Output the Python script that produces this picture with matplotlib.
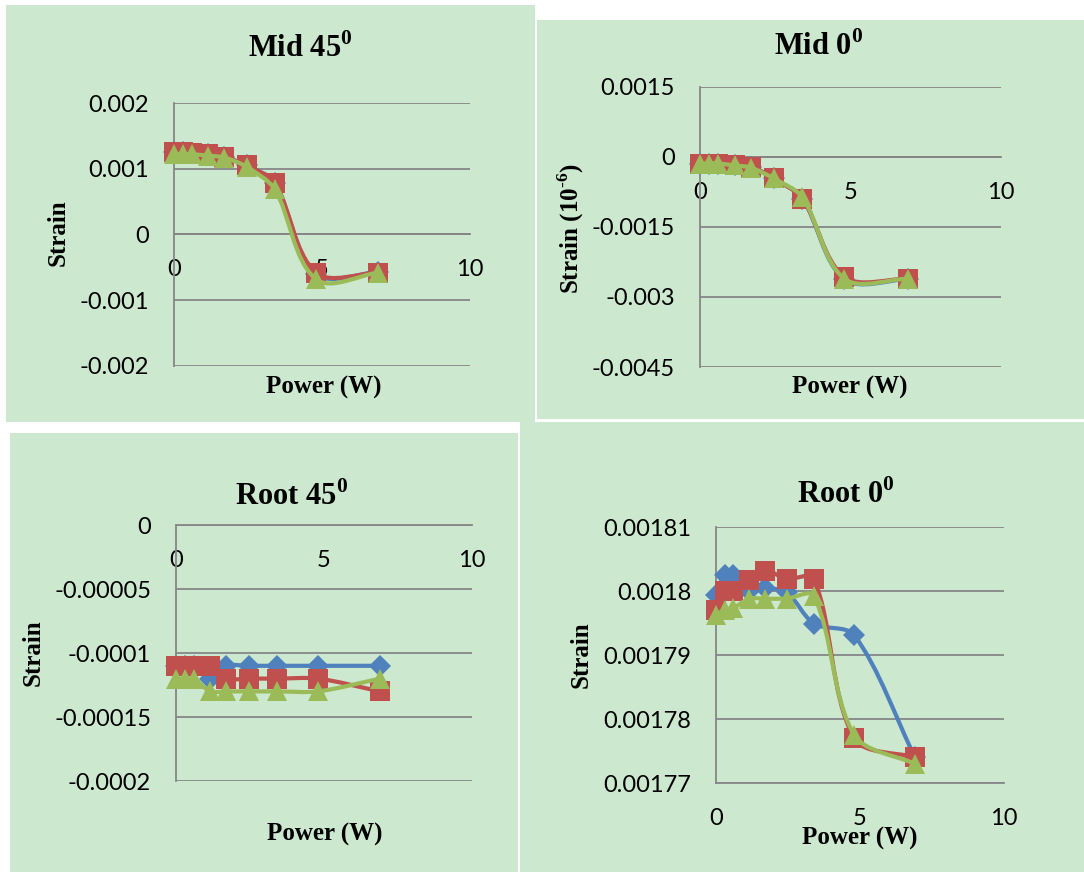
import matplotlib
matplotlib.use('Agg')
import matplotlib.pyplot as plt
import numpy as np
from matplotlib.path import Path
from matplotlib.patches import PathPatch, Rectangle

# Power levels (W) shared by all four gauges
power = [0, 0.3, 0.6, 1.15, 1.7, 2.45, 3.4, 4.8, 6.9]

# Mid 45 deg gauge
mid45_blue = [0.00125, 0.00125, 0.00124, 0.00122, 0.00118, 0.00105, 0.00079, -0.00060, -0.00057]
mid45_red = [0.00125, 0.00125, 0.00124, 0.00122, 0.00118, 0.00105, 0.00079, -0.00058, -0.00058]
mid45_green = [0.00122, 0.00122, 0.00122, 0.00120, 0.00117, 0.00103, 0.00069, -0.00068, -0.00058]

# Mid 0 deg gauge
mid0_blue = [-0.00014, -0.00014, -0.00014, -0.00018, -0.00021, -0.00046, -0.00089, -0.00262, -0.00262]
mid0_red = [-0.00014, -0.00014, -0.00014, -0.00018, -0.00021, -0.00046, -0.00089, -0.00257, -0.00261]
mid0_green = [-0.00014, -0.00014, -0.00014, -0.00018, -0.00023, -0.00046, -0.00086, -0.00261, -0.00261]

# Root 45 deg gauge
root45_blue = [-0.00011, -0.00011, -0.00011, -0.00012, -0.00011, -0.00011, -0.00011, -0.00011, -0.00011]
root45_red = [-0.00011, -0.00011, -0.00011, -0.00011, -0.00012, -0.00012, -0.00012, -0.00012, -0.00013]
root45_green = [-0.00012, -0.00012, -0.00012, -0.00013, -0.00013, -0.00013, -0.00013, -0.00013, -0.00012]

# Root 0 deg gauge
root0_blue = [0.0017993, 0.0018025, 0.0018025, 0.0018, 0.0018004, 0.0017998, 0.0017949, 0.0017931, 0.0017741]
root0_red = [0.001797, 0.0018, 0.0018, 0.0018017, 0.0018032, 0.0018019, 0.0018019, 0.001777, 0.001774]
root0_green = [0.0017962, 0.001797, 0.0017973, 0.0017988, 0.0017988, 0.0017988, 0.0017992, 0.0017775, 0.001773]

# Tick labels as printed on each chart
mid45_ticks = [0.002, 0.001, 0, -0.001, -0.002]
mid45_labels = ['0.002', '0.001', '0', '-0.001', '-0.002']
mid0_ticks = [0.0015, 0, -0.0015, -0.003, -0.0045]
mid0_labels = ['0.0015', '0', '-0.0015', '-0.003', '-0.0045']
root45_ticks = [0, -0.00005, -0.0001, -0.00015, -0.0002]
root45_labels = ['0', '-0.00005', '-0.0001', '-0.00015', '-0.0002']
root0_ticks = [0.00181, 0.0018, 0.00179, 0.00178, 0.00177]
root0_labels = ['0.00181', '0.0018', '0.00179', '0.00178', '0.00177']
x_ticks = [0, 5, 10]
x_labels = ['0', '5', '10']

plt.rcParams['mathtext.fontset'] = 'custom'
plt.rcParams['mathtext.rm'] = 'Liberation Serif'
plt.rcParams['mathtext.bf'] = 'Liberation Serif:bold'

W, H = 1084, 872
bg = '#CCE8CF'
grid_col = '#868686'
colors = ['#4F81BD', '#C0504D', '#9BBB59']
markers = [('D', 11), ('s', 14), ('^', 15)]
serif = 'Liberation Serif'
tick_font = 'Lato'


def px(x, y):
    # pixel position (from top-left) to figure fraction
    return x / W, 1 - y / H


def smooth_path(ax, xs, ys, s=0.3):
    # Excel-like smoothed line: bezier control points worked out on screen,
    # sized by segment length so steep drops don't overshoot
    pts = ax.transData.transform(np.column_stack([xs, ys]))
    n = len(pts)

    def unit(v):
        d = np.hypot(*v)
        return v / d if d > 0 else v

    verts = [pts[0]]
    codes = [Path.MOVETO]
    for i in range(n - 1):
        p0 = pts[i - 1] if i > 0 else pts[i]
        p1 = pts[i]
        p2 = pts[i + 1]
        p3 = pts[i + 2] if i + 2 < n else pts[i + 1]
        seg = np.hypot(*(p2 - p1))
        c1 = p1 + unit(p2 - p0) * seg * s
        c2 = p2 - unit(p3 - p1) * seg * s
        verts += [c1, c2, p2]
        codes += [Path.CURVE4] * 3
    verts = ax.transData.inverted().transform(np.array(verts))
    return Path(verts, codes)


fig = plt.figure(figsize=(W / 100, H / 100), dpi=100)
fig.patch.set_facecolor('white')

# green chart backgrounds (x0, y0, x1, y1 in pixels from top-left)
panels = [(6, 5, 535, 422), (537, 20, 1084, 419), (10, 433, 518, 872), (520, 422, 1084, 872)]
for x0, y0, x1, y1 in panels:
    fx, fy = px(x0, y1)
    fig.patches.append(Rectangle((fx, fy), (x1 - x0) / W, (y1 - y0) / H,
                                 transform=fig.transFigure, facecolor=bg, edgecolor='none', zorder=-10))

charts = [
    dict(box=(174, 103, 470, 366), ylim=(-0.002, 0.002), ticks=mid45_ticks, labels=mid45_labels,
         series=[mid45_blue, mid45_red, mid45_green], axis_at=0,
         title='Mid 45$^\\mathbf{0}$', title_xy=(300, 57), ylabel='Strain', ylabel_xy=(58, 233),
         xlabel_xy=(324, 387)),
    dict(box=(700, 87, 1001, 367), ylim=(-0.0045, 0.0015), ticks=mid0_ticks, labels=mid0_labels,
         series=[mid0_blue, mid0_red, mid0_green], axis_at=0,
         title='Mid 0$^\\mathbf{0}$', title_xy=(819, 55), ylabel='Strain (10$^{\\mathbf{\u2010 6}}$)',
         ylabel_xy=(571, 228), xlabel_xy=(850, 387)),
    dict(box=(176, 525, 472, 781), ylim=(-0.0002, 0), ticks=root45_ticks, labels=root45_labels,
         series=[root45_blue, root45_red, root45_green], axis_at=0,
         title='Root 45$^\\mathbf{0}$', title_xy=(292, 505), ylabel='Strain', ylabel_xy=(33, 653),
         xlabel_xy=(325, 834)),
    dict(box=(716, 527, 1004, 783), ylim=(0.00177, 0.00181), ticks=root0_ticks, labels=root0_labels,
         series=[root0_blue, root0_red, root0_green], axis_at=0.00177,
         title='Root 0$^\\mathbf{0}$', title_xy=(846, 503), ylabel='Strain', ylabel_xy=(581, 655),
         xlabel_xy=(860, 838)),
]

for c in charts:
    x0, y0, x1, y1 = c['box']
    fx, fy = px(x0, y1)
    ax = fig.add_axes([fx, fy, (x1 - x0) / W, (y1 - y0) / H])
    ax.set_zorder(1)
    ax.set_facecolor('none')
    ax.set_xlim(0, 10)
    ax.set_ylim(*c['ylim'])

    for sp in ['top', 'right']:
        ax.spines[sp].set_visible(False)
    ax.spines['left'].set_color(grid_col)
    ax.spines['left'].set_linewidth(1.3)
    ax.spines['bottom'].set_color(grid_col)
    ax.spines['bottom'].set_linewidth(1.3)
    ax.spines['bottom'].set_position(('data', c['axis_at']))

    ax.set_yticks(c['ticks'])
    ax.set_yticklabels(c['labels'])
    ax.set_xticks(x_ticks)
    ax.set_xticklabels(x_labels)
    ax.tick_params(axis='both', length=0, labelsize=17, colors='black')
    ax.tick_params(axis='y', pad=18)
    ax.tick_params(axis='x', pad=18)
    for lab in ax.get_xticklabels() + ax.get_yticklabels():
        lab.set_family(tick_font)

    ax.yaxis.grid(True, color=grid_col, linewidth=1.3)
    ax.set_axisbelow(True)

    # series: line then markers, blue, red, green
    for vals, col, (m, ms) in zip(c['series'], colors, markers):
        ax.add_patch(PathPatch(smooth_path(ax, power, vals), facecolor='none', edgecolor=col,
                               linewidth=3, capstyle='round', joinstyle='round', zorder=3))
        ax.plot(power, vals, linestyle='none', marker=m, markersize=ms, color=col,
                markeredgewidth=0, zorder=3, clip_on=False)

    tx, ty = px(*c['title_xy'])
    fig.text(tx, ty, c['title'], ha='center', va='baseline', family=serif,
             fontweight='bold', fontsize=22, zorder=2)
    lx, ly = px(*c['xlabel_xy'])
    fig.text(lx, ly, 'Power (W)', ha='center', va='center', family=serif,
             fontweight='bold', fontsize=18, zorder=2)
    yx, yy = px(*c['ylabel_xy'])
    fig.text(yx, yy, c['ylabel'], ha='center', va='center', rotation=90, family=serif,
             fontweight='bold', fontsize=18, zorder=2)

plt.savefig('out.png', dpi=100, facecolor='white')
